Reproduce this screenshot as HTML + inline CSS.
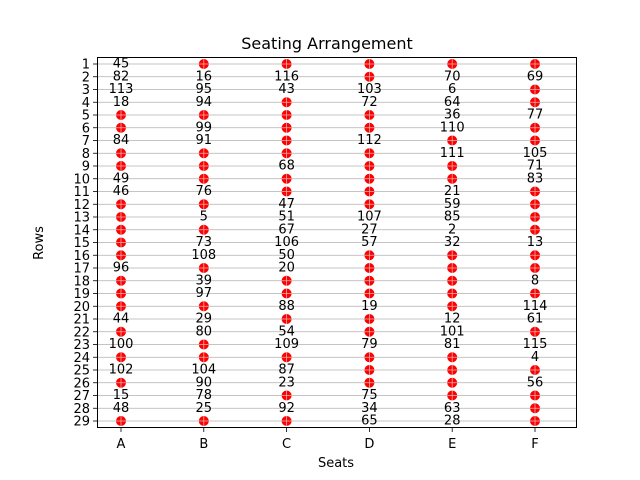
<!DOCTYPE html>
<html><head><meta charset="utf-8"><style>
body{margin:0;background:#fff}
svg{display:block;font-family:"DejaVu Sans","Liberation Sans",sans-serif}
</style></head><body>
<svg id="chart" width="640" height="480">
<rect x="0" y="0" width="640" height="480" fill="#fff"/>
<text x="327" y="49" font-size="16" text-anchor="middle">Seating Arrangement</text>
<text x="336" y="467" font-size="13" text-anchor="middle">Seats</text>
<text x="0" y="0" font-size="13" text-anchor="middle" transform="translate(43,243) rotate(-90)">Rows</text>
<g id="grid"></g><g id="dots"></g><g id="labels"></g><g id="ticks"></g>
<rect x="97.5" y="57.5" width="479" height="370" fill="none" stroke="#000" stroke-width="1"/>
</svg>
<script>
const seats = ["A","B","C","D","E","F"];
const rows = [1,2,3,4,5,6,7,8,9,10,11,12,13,14,15,16,17,18,19,20,21,22,23,24,25,26,27,28,29];
const colA = [45,82,113,18,null,null,84,null,null,49,46,null,null,null,null,null,96,null,null,null,44,null,100,null,102,null,15,48,null];
const colB = [null,16,95,94,null,99,91,null,null,null,76,null,5,null,73,108,null,39,97,null,29,80,null,null,104,90,78,25,null];
const colC = [null,116,43,null,null,null,null,null,68,null,null,47,51,67,106,50,20,null,null,88,null,54,109,null,87,23,null,92,null];
const colD = [null,null,103,72,null,null,112,null,null,null,null,null,107,27,57,null,null,null,null,19,null,null,79,null,null,null,75,34,65];
const colE = [null,70,6,64,36,110,null,111,null,null,21,59,85,2,32,null,null,null,null,null,12,101,81,null,null,null,null,63,28];
const colF = [null,69,null,null,77,null,null,105,71,83,null,null,null,null,13,null,null,8,null,114,61,null,115,4,null,56,null,null,null];
const cols = [colA,colB,colC,colD,colE,colF];
const NS="http://www.w3.org/2000/svg";
const xS = i => 121 + i*(535-121)/5;
const yS = r => 64 + (r-1)*(421-64)/28;
function mk(tag, attrs, parent){const e=document.createElementNS(NS,tag);for(const k in attrs)e.setAttribute(k,attrs[k]);parent.appendChild(e);return e;}
const grid=document.getElementById('grid'),dots=document.getElementById('dots'),labels=document.getElementById('labels'),ticks=document.getElementById('ticks');
rows.forEach(r=>{
  const y=yS(r);
  const l=mk('line',{x1:98,x2:576,y1:y,y2:y,stroke:'#b0b0b0','stroke-width':0.8},grid);
  
  
  const t=mk('line',{x1:93,x2:97.5,y1:y,y2:y,stroke:'#000','stroke-width':0.8},ticks);
  
  
  const tl=mk('text',{x:90,y:y+4.5,'font-size':13,'text-anchor':'end'},ticks);
  tl.textContent=r;
  
  
});
seats.forEach((s,i)=>{
  const x=xS(i);
  const t=mk('line',{x1:x,x2:x,y1:427.5,y2:432,stroke:'#000','stroke-width':0.8},ticks);
  
  
  const tl=mk('text',{x:x,y:448,'font-size':13,'text-anchor':'middle'},ticks);
  tl.textContent=s;
  
  
  cols[i].forEach((v,j)=>{
    const y=yS(rows[j]);
    if(v===null){
      const c=mk('circle',{cx:x,cy:y,r:5,fill:'#ff0000'},dots);
      
      
      mk('line',{x1:x-5,x2:x+5,y1:y,y2:y,stroke:'#e0b0b0','stroke-width':0.8},dots);
      mk('line',{x1:x,x2:x,y1:y-5,y2:y+5,stroke:'#e0b0b0','stroke-width':0.8},dots);
    } else {
      const tx=mk('text',{x:x,y:y+3.5,'font-size':13,'text-anchor':'middle',fill:'#000'},labels);
      tx.textContent=v;
      
      
    }
  });
});
</script>
</body></html>
